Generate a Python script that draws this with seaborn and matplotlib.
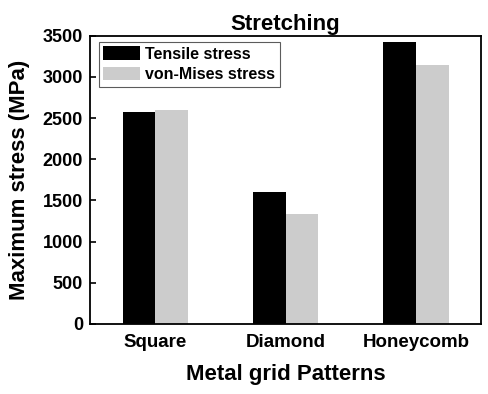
import pandas as pd
import matplotlib
matplotlib.use("Agg")
import matplotlib.pyplot as plt
import seaborn as sns

patterns = ["Square", "Diamond", "Honeycomb"]
tensile_stress = [2570, 1600, 3420]
von_mises_stress = [2600, 1340, 3140]
series_names = ["Tensile stress", "von-Mises stress"]

df = pd.DataFrame({
    "pattern": patterns * 2,
    "stress": tensile_stress + von_mises_stress,
    "kind": [series_names[0]] * 3 + [series_names[1]] * 3,
})

sns.set_style("ticks")
plt.rcParams["font.family"] = ["Liberation Sans", "DejaVu Sans"]
plt.rcParams["font.weight"] = "bold"
plt.rcParams["text.color"] = "black"
plt.rcParams["axes.labelcolor"] = "black"
plt.rcParams["xtick.color"] = "black"
plt.rcParams["ytick.color"] = "black"

fig = plt.figure(figsize=(4.89, 3.94), dpi=100)
ax = fig.add_axes([0.184, 0.178, 0.8, 0.731])

sns.barplot(data=df, x="pattern", y="stress", hue="kind", order=patterns,
            hue_order=series_names, palette=["#000000", "#cccccc"],
            width=0.5, saturation=1, linewidth=0, ax=ax)

ax.set_xlim(-0.5, 2.5)
ax.set_ylim(0, 3500)
ax.set_yticks(range(0, 3501, 500))
ax.tick_params(axis="y", direction="in", length=4, width=1.2, labelsize=13, pad=5)
ax.tick_params(axis="x", length=0, labelsize=13.5, pad=7)
for lbl in ax.get_xticklabels() + ax.get_yticklabels():
    lbl.set_fontweight("bold")
for s in ax.spines.values():
    s.set_visible(True)
    s.set_color("black")
    s.set_linewidth(1.3)

ax.set_title("Stretching", fontsize=16, fontweight="bold", pad=4)
ax.set_xlabel("Metal grid Patterns", fontsize=16, fontweight="bold", labelpad=10)
ax.set_ylabel("Maximum stress (MPa)", fontsize=16, fontweight="bold", labelpad=9)

leg = ax.legend(loc="upper left", bbox_to_anchor=(0.022, 0.98), borderaxespad=0,
                fontsize=11.5, frameon=True, fancybox=False,
                handlelength=2.3, handleheight=0.9, labelspacing=0.35,
                borderpad=0.3, handletextpad=0.3)
leg.get_frame().set_edgecolor("#333333")
leg.get_frame().set_linewidth(0.8)
for t in leg.get_texts():
    t.set_fontweight("bold")

fig.savefig("out.png", dpi=100)
